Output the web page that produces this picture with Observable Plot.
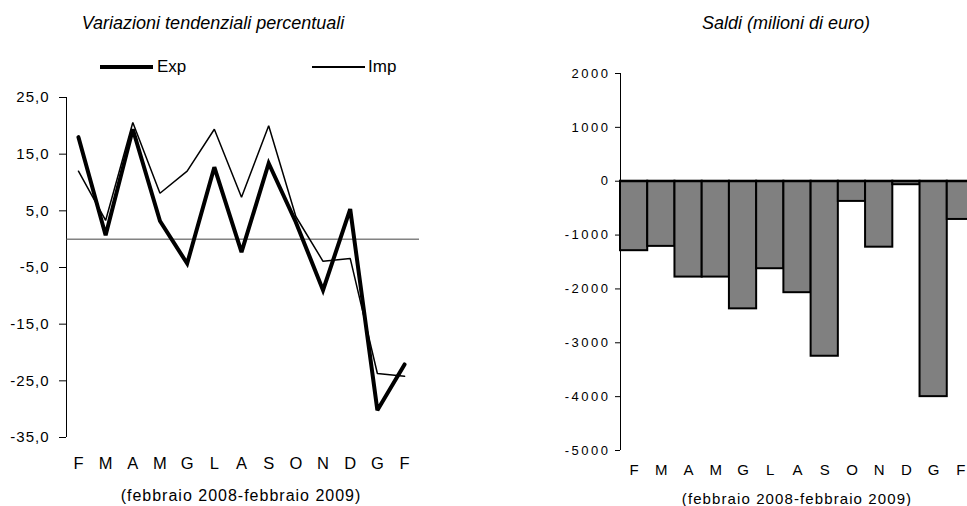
<!DOCTYPE html>
<html>
<head>
<meta charset="utf-8">
<script src="https://cdn.jsdelivr.net/npm/d3@7"></script>
<script src="https://cdn.jsdelivr.net/npm/@observablehq/plot@0.6"></script>
<style>
  html, body { margin: 0; padding: 0; background: #fff; overflow: hidden; width: 967px; height: 506px; }
  body { position: relative; font-family: "Liberation Sans", Arial, sans-serif; color: #000; }
  .abs { position: absolute; white-space: nowrap; }
  .title { font-family: "Liberation Sans Narrow", "Liberation Sans", Arial, sans-serif; font-style: italic; font-size: 18px; line-height: 18px; text-align: center; }
  .sub { font-size: 15px; line-height: 16px; text-align: center; letter-spacing: 1px; }
  .leg { font-size: 17px; line-height: 17px; }
  svg { max-width: none !important; }
</style>
</head>
<body>
<div class="abs title" style="left:63px; width:300px; top:14px;">Variazioni tendenziali percentuali</div>
<div class="abs title" style="left:636px; width:300px; top:14px;">Saldi (milioni di euro)</div>

<div class="abs" style="left:100px; top:65px; width:53px; height:4px; background:#000;"></div>
<div class="abs leg" style="left:157px; top:58px;">Exp</div>
<div class="abs" style="left:312px; top:66px; width:53px; height:1.5px; background:#000;"></div>
<div class="abs leg" style="left:368px; top:58px;">Imp</div>

<div id="left" class="abs" style="left:0px; top:80px; width:440px; height:426px;"></div>
<div id="right" class="abs" style="left:500px; top:60px; width:500px; height:446px;"></div>

<div class="abs sub" style="left:91px; width:300px; top:488px; font-size:16px;">(febbraio 2008-febbraio 2009)</div>
<div class="abs sub" style="left:647px; width:300px; top:491px; letter-spacing:1.1px;">(febbraio 2008-febbraio 2009)</div>

<script>
// ---- data ----
const months = ["F", "M", "A", "M", "G", "L", "A", "S", "O", "N", "D", "G", "F"];
const expVar = [18.0, 0.7, 19.4, 3.2, -4.3, 12.7, -2.3, 13.4, 3.0, -9.0, 5.3, -30.2, -22.1];
const impVar = [12.0, 3.3, 20.6, 8.1, 12.0, 19.4, 7.4, 20.0, 4.0, -3.9, -3.4, -23.7, -24.2];
const saldi = [-1290, -1210, -1780, -1780, -2370, -1625, -2070, -3250, -375, -1225, -65, -4000, -710];
const leftTicks = [-35, -25, -15, -5, 5, 15, 25];
const rightTicks = [-5000, -4000, -3000, -2000, -1000, 0, 1000, 2000];

const idx = months.map((_, i) => i);
const expData = idx.map(i => ({i, v: expVar[i]}));
const impData = idx.map(i => ({i, v: impVar[i]}));
const barData = idx.map(i => ({i, v: saldi[i]}));

const fmtComma = d => d.toFixed(1).replace(".", ",");

function styleTexts(svg, monthSize, numSize, numSpacing) {
  svg.querySelectorAll("text").forEach(t => {
    if (months.includes(t.textContent.trim())) {
      t.style.fontSize = monthSize + "px";
    } else {
      t.style.fontSize = numSize + "px";
      t.style.letterSpacing = numSpacing + "px";
    }
  });
}

// ---- left chart ----
const left = Plot.plot({
  width: 440,
  height: 426,
  marginLeft: 66,
  marginRight: 21,
  marginTop: 17,
  marginBottom: 69,
  style: {fontFamily: "Liberation Sans, Arial, sans-serif", background: "transparent", overflow: "visible", maxWidth: "none"},
  x: {domain: [-0.44, 12.55]},
  y: {domain: [-35, 25]},
  marks: [
    Plot.axisY({ticks: leftTicks, tickFormat: fmtComma, tickSize: 7, tickPadding: 10, label: null, stroke: "#000"}),
    Plot.axisX({ticks: idx, tickFormat: i => months[i], tickSize: 0, tickPadding: 20, label: null}),
    Plot.ruleX([-0.44], {y1: -35, y2: 25, stroke: "#000", strokeWidth: 1}),
    Plot.ruleY([0], {stroke: "#444", strokeWidth: 1}),
    Plot.line(impData, {x: "i", y: "v", stroke: "#000", strokeWidth: 1.5, strokeLinejoin: "miter"}),
    Plot.line(expData, {x: "i", y: "v", stroke: "#000", strokeWidth: 4, strokeLinejoin: "miter", strokeMiterlimit: 3})
  ]
});
styleTexts(left, 16.5, 15, 1);
document.getElementById("left").appendChild(left);

// ---- right chart ----
const right = Plot.plot({
  width: 500,
  height: 446,
  marginLeft: 120,
  marginRight: 26,
  marginTop: 13,
  marginBottom: 56,
  style: {fontFamily: "Liberation Sans, Arial, sans-serif", background: "transparent", overflow: "visible", maxWidth: "none"},
  x: {domain: [0, 13]},
  y: {domain: [-5000, 2000]},
  marks: [
    Plot.axisY({ticks: rightTicks, tickSize: 5, tickPadding: 5, label: null, tickFormat: d => String(d), stroke: "#000"}),
    Plot.axisX({ticks: idx.map(i => i + 0.5), tickFormat: d => months[Math.floor(d)], tickSize: 0, tickPadding: 14, label: null}),
    Plot.rect(barData, {x1: d => d.i, x2: d => d.i + 1, y1: d => 0, y2: "v", fill: "#808080", stroke: "#000", strokeWidth: 2}),
    Plot.ruleX([0], {y1: -5000, y2: 2000, stroke: "#000", strokeWidth: 1}),
    Plot.ruleY([0], {stroke: "#000", strokeWidth: 2})
  ]
});
styleTexts(right, 15, 13, 2.5);
document.getElementById("right").appendChild(right);
</script>
</body>
</html>
